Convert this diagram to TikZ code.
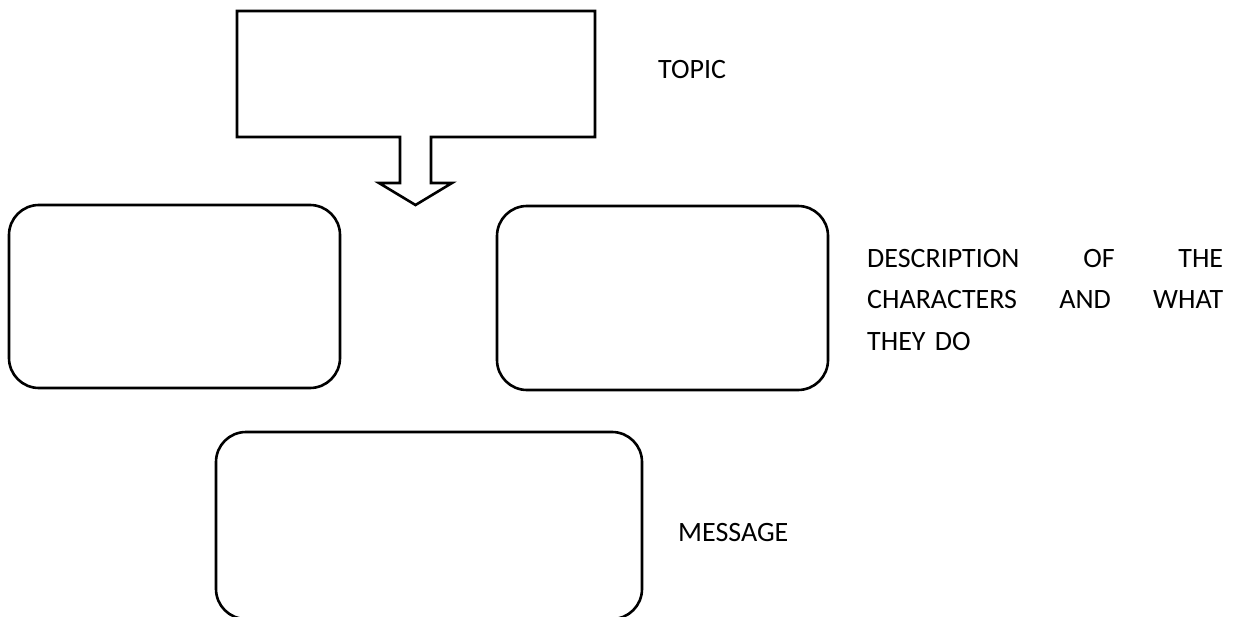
\documentclass[tikz,border=0pt]{standalone}
\usepackage{fontspec}
\setmainfont{Carlito}
\begin{document}
\begin{tikzpicture}[x=1pt,y=-1pt,
  outline/.style={draw=black,line width=2.6pt,line join=miter},
  roundbox/.style={outline,rounded corners=30pt,inner sep=0pt},
  label/.style={inner sep=0pt,font=\fontsize{28}{32}\selectfont}]
  % page frame
  \clip (0,0) rectangle (1244,617);
  \fill[white] (0,0) rectangle (1244,617);

  % topic box merged with its block arrow
  \coordinate (tl) at (237,11);
  \coordinate (br) at (595,137);
  \coordinate (tip) at (415.5,205);
  \draw[outline] (tl) -- (237,137) -- (400,137) -- (400,183) -- (379,183)
    -- (tip) -- (452,183) -- (431,183) -- (431,137) -- (br) -- (595,11) -- cycle;

  % empty rounded boxes
  \node[roundbox,minimum width=331pt,minimum height=183pt] (left) at (174.5,296.5) {};
  \node[roundbox,minimum width=331pt,minimum height=184pt] (right) at (662.5,298) {};
  \node[roundbox,minimum width=426pt,minimum height=187pt] (bottom) at (429,525.5) {};

  % labels
  \node[label,anchor=base west] (topic) at (658,79) {TOPIC};
  \node[label,anchor=north west,text width=356pt] (desc) at (867,249)
    {\baselineskip=41.5pt
     \hbox to 356pt{DESCRIPTION\hfill OF\hfill THE}\par
     \hbox to 356pt{CHARACTERS\hfill AND\hfill WHAT}\par
     \hbox{THEY DO}};
  \node[label,anchor=base west] (message) at (678,541) {MESSAGE};
\end{tikzpicture}
\end{document}
